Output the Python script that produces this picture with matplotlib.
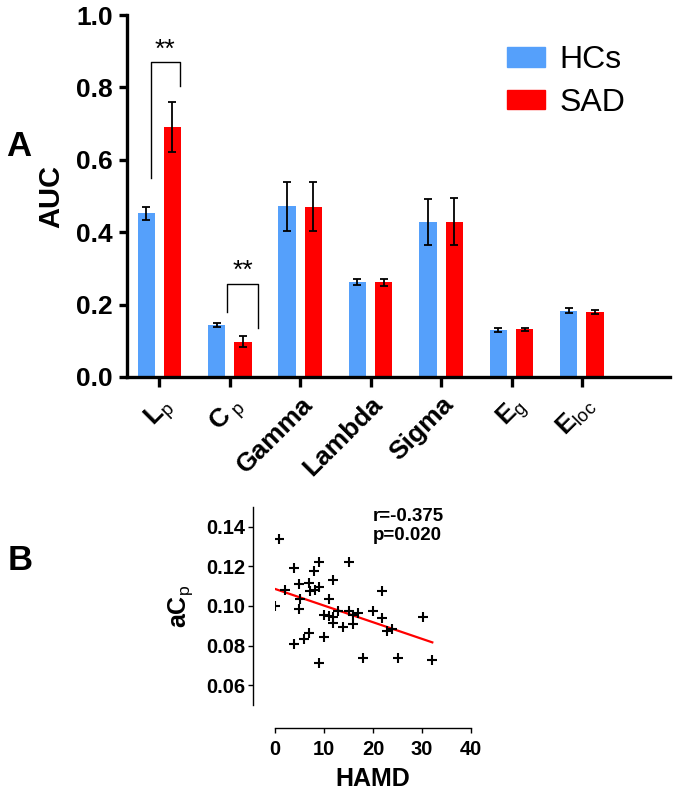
import numpy as np
import matplotlib
matplotlib.use("Agg")
import matplotlib.pyplot as plt
from matplotlib.patches import Patch

plt.rcParams.update({
    "font.family": ["Liberation Sans", "DejaVu Sans"],
    "mathtext.fontset": "custom",
    "mathtext.rm": "Liberation Sans",
    "mathtext.bf": "Liberation Sans:bold",
    "mathtext.it": "Liberation Sans:italic",
})

# ---- panel A data ----
metrics = [r"$\mathbf{L}_{\mathrm{p}}$", r"$\mathbf{C}_{\ \mathrm{p}}$", "Gamma", "Lambda", "Sigma",
           r"$\mathbf{E}_{\mathrm{g}}$", r"$\mathbf{E}_{\mathrm{loc}}$"]
hcs_mean = [0.452, 0.144, 0.472, 0.262, 0.429, 0.130, 0.183]
hcs_err = [0.017, 0.006, 0.068, 0.008, 0.063, 0.005, 0.007]
sad_mean = [0.691, 0.098, 0.471, 0.262, 0.429, 0.132, 0.180]
sad_err = [0.070, 0.016, 0.068, 0.010, 0.065, 0.004, 0.006]
groups = ["HCs", "SAD"]

# ---- panel B data ----
hamd = [0.0, 0.9, 2.0, 3.9, 3.9, 4.9, 5.1, 5.0, 6.0, 7.0, 7.0, 7.1, 8.0, 8.2, 9.0, 9.0, 9.0,
        10.0, 10.0, 11.0, 11.0, 11.9, 11.9, 11.9, 12.8, 13.9, 15.0, 15.0, 16.0, 16.0, 17.0,
        17.9, 19.9, 21.9, 21.9, 22.9, 23.9, 25.0, 30.1, 32.1]
acp = [0.1002, 0.1337, 0.1080, 0.1190, 0.0806, 0.1110, 0.1036, 0.0983, 0.0832, 0.0866,
       0.1115, 0.1075, 0.1177, 0.1080, 0.1224, 0.1095, 0.0713, 0.0842, 0.0955, 0.1034,
       0.0951, 0.1129, 0.0915, 0.0946, 0.0976, 0.0894, 0.1221, 0.0976, 0.0955, 0.0910,
       0.0963, 0.0738, 0.0976, 0.1075, 0.0938, 0.0875, 0.0882, 0.0738, 0.0946, 0.0725]
hamd_ticks = [0, 10, 20, 30, 40]
acp_ticks = [0.06, 0.08, 0.10, 0.12, 0.14]

BLUE = "#55A0FB"
RED = "#FF0000"

fig = plt.figure(figsize=(6.75, 7.93), dpi=100)

# ===== Panel A =====
ax = fig.add_axes([0.188, 0.5246, 0.8046, 0.4564])
x = np.arange(len(metrics))
w, off = 0.245, 0.187
ekw = dict(ecolor="black", elinewidth=1.3, capsize=2.6, capthick=1.3)
ax.bar(x - off, hcs_mean, w, color=BLUE, yerr=hcs_err, error_kw=ekw, label=groups[0], zorder=2)
ax.bar(x + off, sad_mean, w, color=RED, yerr=sad_err, error_kw=ekw, label=groups[1], zorder=2)
ax.set_xlim(-0.46, 7.25)
ax.set_ylim(0, 1.0)
for s in ("top", "right"):
    ax.spines[s].set_visible(False)
for s in ("left", "bottom"):
    ax.spines[s].set_linewidth(2.4)
ax.set_yticks(np.arange(0, 1.01, 0.2))
ax.set_yticklabels([f"{v:.1f}" for v in np.arange(0, 1.01, 0.2)], fontsize=19, fontweight="bold")
ax.set_xticks(x)
ax.set_xticklabels(metrics, fontsize=19, fontweight="bold", rotation=45, ha="right",
                   rotation_mode="anchor")
ax.tick_params(axis="both", width=2.4, length=7, direction="out", pad=4)
ax.tick_params(axis="y", length=6)
ax.set_ylabel("AUC", fontsize=21, fontweight="bold", labelpad=8)

# significance brackets
def bracket(xl, xr, yl, yr, ytop, ystar):
    ax.plot([xl, xl, xr, xr], [yl, ytop, ytop, yr], color="black", lw=1.0, zorder=3)
    ax.text((xl + xr) / 2, ystar, "**", ha="center", va="center", fontsize=19)

bracket(-0.122, 0.294, 0.549, 0.805, 0.869, 0.905)
bracket(0.963, 1.40, 0.179, 0.134, 0.256, 0.292)

ax.legend(handles=[Patch(color=BLUE, label=groups[0]), Patch(color=RED, label=groups[1])],
          loc="upper left", bbox_to_anchor=(507 / 675, 1 - 45 / 793),
          bbox_transform=fig.transFigure, frameon=False, fontsize=23, borderpad=0,
          borderaxespad=0, handlelength=1.2, handleheight=0.57, handletextpad=0.45,
          labelspacing=0.4)

fig.text(19 / 675, 1 - 146 / 793, "A", fontsize=25, fontweight="bold", ha="center", va="center")

# ===== Panel B =====
bx = fig.add_axes([0.4074, 0.1110, 0.2904, 0.2497])
for s in ("top", "right"):
    bx.spines[s].set_visible(False)
bx.spines["left"].set_position(("outward", 15.8))
bx.spines["bottom"].set_position(("outward", 16.5))
bx.scatter(hamd, acp, marker="+", s=55, color="black", linewidths=1.5, zorder=3)
slope, icpt = np.polyfit(hamd, acp, 1)
xf = np.array([min(hamd), max(hamd)])
bx.plot(xf, slope * xf + icpt, color=RED, lw=1.6, zorder=2)
bx.set_xlim(0, 40)
bx.set_ylim(0.05, 0.15)
bx.spines["left"].set_bounds(0.05, 0.15)
bx.spines["bottom"].set_bounds(0, 40)
for s in ("left", "bottom"):
    bx.spines[s].set_linewidth(1.0)
bx.set_xticks(hamd_ticks)
bx.set_xticklabels([str(v) for v in hamd_ticks], fontsize=14.5, fontweight="bold")
bx.set_yticks(acp_ticks)
bx.set_yticklabels([f"{v:.2f}" for v in acp_ticks], fontsize=14.5, fontweight="bold")
bx.tick_params(axis="both", width=1.0, length=3.6, direction="out", pad=2)
bx.tick_params(axis="x", pad=5)
bx.set_ylabel(r"$\mathbf{aC}_{\mathrm{p}}$", fontsize=18, labelpad=8)
bx.set_xlabel("HAMD", fontsize=18, fontweight="bold", labelpad=6)
bx.text(0.498, 0.995, "r=-0.375\np=0.020", transform=bx.transAxes, fontsize=13.5,
        fontweight="bold", ha="left", va="top", linespacing=1.15)

fig.text(20 / 675, 1 - 561 / 793, "B", fontsize=25, fontweight="bold", ha="center", va="center")

fig.savefig("out.png", dpi=100)
